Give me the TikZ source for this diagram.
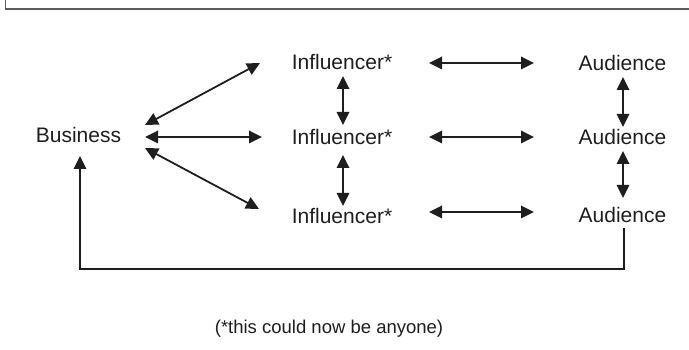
\documentclass[tikz,border=0pt]{standalone}
\usepackage{fontspec}
\setmainfont{Liberation Sans}
\usetikzlibrary{arrows.meta}
\definecolor{framegray}{HTML}{5A5A5A}
\definecolor{ink}{HTML}{1E1E1E}
\begin{document}
\begin{tikzpicture}[x=1pt,y=1pt,
  lbl/.style={inner sep=0pt, text height=15pt, text depth=0pt, font=\fontsize{21}{25}\selectfont, text=ink},
  note/.style={inner sep=0pt, text height=13.3pt, text depth=0pt, font=\fontsize{18.5}{22}\selectfont, text=ink},
  dbl/.style={{Triangle[length=13pt,width=12.5pt]}-{Triangle[length=13pt,width=12.5pt]}, line width=1.8pt, draw=ink},
  sgl/.style={-{Triangle[length=13pt,width=12.5pt]}, line width=1.8pt, draw=ink},
  framel/.style={draw=framegray, line width=1.8pt}]
\useasboundingbox (0,0) rectangle (689,350);
\draw[framel] (5.5,350) -- (5.5,341) -- (689,341);
% nodes
\node[lbl] (b) at (78.5,215) {Business};
\node[lbl] (i1) at (342,288) {Influencer*};
\node[lbl] (i2) at (342,213) {Influencer*};
\node[lbl] (i3) at (342,134) {Influencer*};
\node[lbl] (a1) at (622.5,287) {Audience};
\node[lbl] (a2) at (622.5,213) {Audience};
\node[lbl] (a3) at (622.5,135) {Audience};
\node[note] (n) at (329,23) {(*this could now be anyone)};
% business to influencers
\draw[dbl] ([shift={(66.5,10)}]b.center) -- ([shift={(-82,-1)}]i1.center);
\draw[dbl] ([shift={(66.5,-2)}]b.center) -- ([shift={(-80,0)}]i2.center);
\draw[dbl] ([shift={(66.5,-13)}]b.center) -- ([shift={(-83,7)}]i3.center);
% influencer verticals
\draw[dbl] ([shift={(1,-14)}]i1.center) -- ([shift={(1,12)}]i2.center);
\draw[dbl] ([shift={(1,-18)}]i2.center) -- ([shift={(1,10)}]i3.center);
% influencer to audience
\draw[dbl] ([shift={(87,-1)}]i1.center) -- ([shift={(-88.5,0)}]a1.center);
\draw[dbl] ([shift={(87,0)}]i2.center) -- ([shift={(-88.5,0)}]a2.center);
\draw[dbl] ([shift={(87,4)}]i3.center) -- ([shift={(-88.5,3)}]a3.center);
% audience verticals
\draw[dbl] ([shift={(0.5,-14)}]a1.center) -- ([shift={(0.5,10)}]a2.center);
\draw[dbl] ([shift={(0.5,-14)}]a2.center) -- ([shift={(0.5,17)}]a3.center);
% feedback
\draw[sgl] ([shift={(1.5,-13)}]a3.center) -- (624,81) -- (80,81) -- ([shift={(1.5,-21)}]b.center);
\end{tikzpicture}
\end{document}
